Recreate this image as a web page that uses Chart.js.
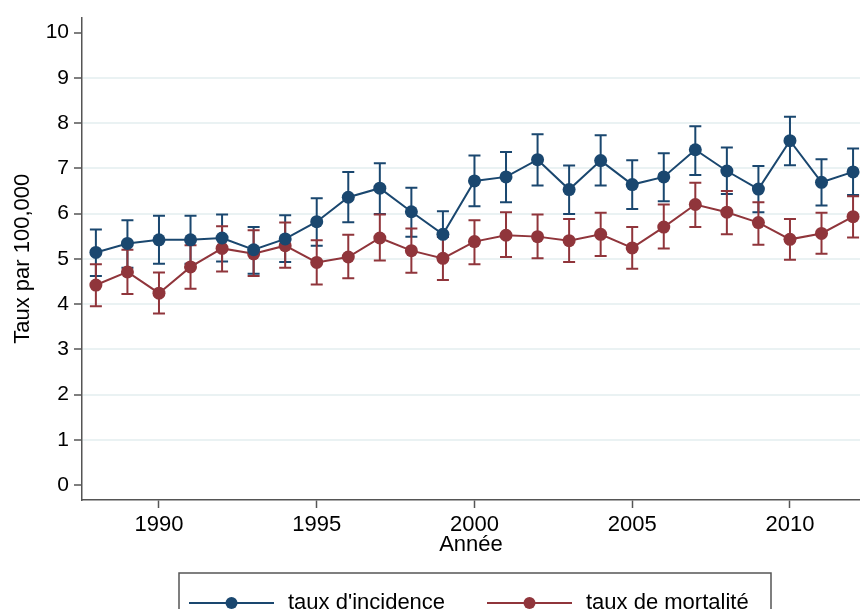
<!DOCTYPE html>
<html>
<head>
<meta charset="utf-8">
<script src="https://cdn.jsdelivr.net/npm/chart.js@4/dist/chart.umd.min.js"></script>
<style>
  body { margin: 0; background: #fff; }
  canvas { display: block; }
</style>
</head>
<body>
<canvas id="rateChart" width="860" height="609"></canvas>
<script>
// data
const years = [1988, 1989, 1990, 1991, 1992, 1993, 1994, 1995, 1996, 1997, 1998, 1999,
    2000, 2001, 2002, 2003, 2004, 2005, 2006, 2007, 2008, 2009, 2010, 2011, 2012];

const incidence = [5.14, 5.34, 5.42, 5.42, 5.46, 5.20, 5.44, 5.82, 6.36, 6.56, 6.04, 5.54,
    6.72, 6.81, 7.19, 6.53, 7.17, 6.64, 6.81, 7.41, 6.94, 6.54, 7.61, 6.69, 6.92];
const incidenceLow = [4.62, 4.80, 4.89, 4.89, 4.94, 4.67, 4.93, 5.29, 5.81, 5.99, 5.49, 5.02,
    6.16, 6.25, 6.62, 5.99, 6.62, 6.10, 6.27, 6.85, 6.43, 6.03, 7.07, 6.18, 6.41];
const incidenceHigh = [5.65, 5.85, 5.95, 5.95, 5.98, 5.70, 5.96, 6.34, 6.92, 7.11, 6.57, 6.05,
    7.28, 7.36, 7.75, 7.06, 7.73, 7.18, 7.33, 7.93, 7.46, 7.05, 8.14, 7.20, 7.44];

const mortality = [4.42, 4.71, 4.24, 4.82, 5.23, 5.11, 5.29, 4.92, 5.04, 5.46, 5.18, 5.01,
    5.38, 5.52, 5.49, 5.40, 5.54, 5.24, 5.70, 6.20, 6.03, 5.80, 5.43, 5.56, 5.93];
const mortalityLow = [3.95, 4.22, 3.79, 4.34, 4.72, 4.62, 4.80, 4.43, 4.57, 4.96, 4.69, 4.53,
    4.88, 5.04, 5.01, 4.93, 5.06, 4.78, 5.23, 5.70, 5.54, 5.31, 4.98, 5.11, 5.47];
const mortalityHigh = [4.88, 5.20, 4.70, 5.30, 5.72, 5.63, 5.80, 5.41, 5.53, 5.98, 5.67, 5.48,
    5.85, 6.03, 5.98, 5.88, 6.02, 5.70, 6.20, 6.68, 6.50, 6.25, 5.88, 6.02, 6.38];

const xTicks = [1990, 1995, 2000, 2005, 2010];
const yTicks = [0, 1, 2, 3, 4, 5, 6, 7, 8, 9, 10];

const seriesNames = ["taux d'incidence", 'taux de mortalité'];
const blue = '#1a476f';
const red = '#90353b';
const axisColor = '#555555';
const fontFamily = '"Liberation Sans", Arial, sans-serif';

function toPoints(values) {
    return years.map((yr, i) => ({ x: yr, y: values[i] }));
}

// caps drawn under the lines and markers
const errorBars = {
    id: 'errorBars',
    beforeDatasetsDraw(chart) {
        const ctx = chart.ctx;
        const xs = chart.scales.x;
        const ys = chart.scales.y;
        const sets = [[incidenceLow, incidenceHigh, blue], [mortalityLow, mortalityHigh, red]];
        ctx.save();
        ctx.lineWidth = 2;
        sets.forEach(([lo, hi, color]) => {
            ctx.strokeStyle = color;
            years.forEach((yr, i) => {
                const px = xs.getPixelForValue(yr);
                const top = ys.getPixelForValue(hi[i]);
                const bot = ys.getPixelForValue(lo[i]);
                ctx.beginPath();
                ctx.moveTo(px, top);
                ctx.lineTo(px, bot);
                ctx.moveTo(px - 6, top);
                ctx.lineTo(px + 6, top);
                ctx.moveTo(px - 6, bot);
                ctx.lineTo(px + 6, bot);
                ctx.stroke();
            });
        });
        ctx.restore();
    }
};

// boxed legend under the x axis
const boxLegend = {
    id: 'boxLegend',
    afterDraw(chart) {
        const ctx = chart.ctx;
        const cx = 475;
        ctx.save();
        ctx.strokeStyle = axisColor;
        ctx.lineWidth = 1.5;
        ctx.strokeRect(cx - 296, 573, 592, 60);

        const items = [
            { x0: cx - 286, color: blue, label: seriesNames[0] },
            { x0: cx + 12, color: red, label: seriesNames[1] }
        ];
        const y = 603;
        items.forEach(item => {
            ctx.strokeStyle = item.color;
            ctx.lineWidth = 2;
            ctx.beginPath();
            ctx.moveTo(item.x0, y);
            ctx.lineTo(item.x0 + 85, y);
            ctx.stroke();
            ctx.fillStyle = item.color;
            ctx.beginPath();
            ctx.arc(item.x0 + 42.5, y, 6, 0, Math.PI * 2);
            ctx.fill();
            ctx.fillStyle = '#000';
            ctx.font = '22px ' + fontFamily;
            ctx.textBaseline = 'middle';
            ctx.textAlign = 'left';
            ctx.fillText(item.label, item.x0 + 99, y);
        });
        ctx.restore();
    }
};

const ctx = document.getElementById('rateChart').getContext('2d');

const chart = new Chart(ctx, {
    type: 'line',
    data: {
        datasets: [
            {
                label: seriesNames[0],
                data: toPoints(incidence),
                borderColor: blue,
                backgroundColor: blue,
                borderWidth: 2,
                pointRadius: 6.5,
                pointBorderWidth: 0,
                tension: 0
            },
            {
                label: seriesNames[1],
                data: toPoints(mortality),
                borderColor: red,
                backgroundColor: red,
                borderWidth: 2,
                pointRadius: 6.5,
                pointBorderWidth: 0,
                tension: 0
            }
        ]
    },
    options: {
        responsive: false,
        animation: false,
        devicePixelRatio: 1,
        layout: {
            autoPadding: false,
            padding: { left: 0, right: 0, top: 10, bottom: 49 }
        },
        plugins: {
            legend: { display: false },
            tooltip: { enabled: false }
        },
        scales: {
            x: {
                type: 'linear',
                min: 1987.56,
                max: 2012.22,
                afterBuildTicks: scale => { scale.ticks = xTicks.map(v => ({ value: v })); },
                afterFit: scale => { scale.height = 60; },
                border: { display: true, color: axisColor, width: 1.5 },
                grid: {
                    drawOnChartArea: false,
                    drawTicks: true,
                    tickLength: 8,
                    tickColor: axisColor,
                    tickWidth: 1.5
                },
                ticks: {
                    color: '#000',
                    padding: 4,
                    maxRotation: 0,
                    font: { family: fontFamily, size: 22 },
                    callback: v => String(v)
                },
                title: {
                    display: true,
                    text: 'Année',
                    color: '#000',
                    font: { family: fontFamily, size: 22 },
                    padding: { top: 0, bottom: 2 }
                }
            },
            y: {
                type: 'linear',
                min: -0.33,
                max: 10.33,
                afterBuildTicks: scale => { scale.ticks = yTicks.map(v => ({ value: v })); },
                afterFit: scale => { scale.width = 82; },
                border: { display: true, color: axisColor, width: 1.5 },
                grid: {
                    color: c => (c.tick && (c.tick.value === 0 || c.tick.value === 10)) ? 'rgba(0,0,0,0)' : '#eaf2f3',
                    lineWidth: 2,
                    drawTicks: true,
                    tickLength: 8,
                    tickColor: axisColor,
                    tickWidth: 1.5
                },
                ticks: {
                    color: '#000',
                    padding: 5,
                    font: { family: fontFamily, size: 21 },
                    callback: v => String(v)
                },
                title: {
                    display: true,
                    text: 'Taux par 100,000',
                    color: '#000',
                    font: { family: fontFamily, size: 22 },
                    padding: { top: 10, bottom: 0 }
                }
            }
        }
    },
    plugins: [errorBars, boxLegend]
});
</script>
</body>
</html>
